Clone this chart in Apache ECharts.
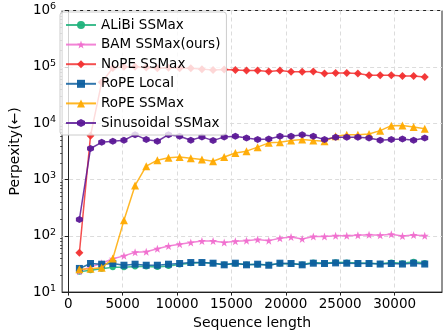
<!DOCTYPE html>
<html><head><meta charset="utf-8">
<script src="https://cdn.jsdelivr.net/npm/echarts@6/dist/echarts.min.js"></script>
<style>html,body{margin:0;padding:0;background:#fff}#c{width:448px;height:335px}</style>
</head><body><div id="c"></div>
<script>
const seqLen = [1024,2048,3072,4096,5120,6144,7168,8192,9216,10240,11264,12288,13312,14336,15360,16384,
  17408,18432,19456,20480,21504,22528,23552,24576,25600,26624,27648,28672,29696,30720,31744,32768];
const alibi = [23,24.5,26,27.5,27.5,28.5,28.5,28,29,31,32.5,33.5,32.5,31,32,31,
  31,30.5,32,32,31,33.5,32.5,34,33.5,33,32.5,32,33.5,32.5,34.5,33];
const bam = [23.5,28,32.5,39,44,51,52,59,66,71,76,81,81,76,80,82,
  86,82,90,95,88,97,97,100,100,102,104,102,106,99,103,100];
const nope = [50,6000,53000,95000,100000,100000,97000,94000,96000,94000,94000,91000,88000,90000,88000,86000,
  86000,83000,86000,82000,82000,83000,76000,78000,78000,76000,71000,71000,71000,69000,69000,66000];
const ropeLocal = [26.3,32.2,31.3,32.2,30,31.3,30,30,31.3,32.2,33.5,33.5,32.6,30.5,32.6,30.5,
  31.3,30,32.6,32.2,30.5,32.6,32.2,33,32.6,32.2,32.2,31.5,32.2,31.5,32.6,31.5];
const ropeSS = [25.5,26,27,39.5,188,783,1720,2200,2420,2510,2380,2260,2110,2510,2950,3180,
  3750,4470,4570,4900,5100,4900,4770,5840,6250,6250,6420,7360,9030,9100,8570,7950];
const sinus = [195,3550,4570,4770,4960,6250,5100,4770,6250,5840,4960,5700,4900,5700,5840,5470,
  5100,5250,5840,5840,6250,5840,5100,5600,5600,5600,5470,4960,5100,5250,4960,5470];
const seriesNames = ['ALiBi SSMax','BAM SSMax(ours)','NoPE SSMax','RoPE Local','RoPE SSMax','Sinusoidal SSMax'];
const xTicks = [0,5000,10000,15000,20000,25000,30000];
const yMinor = [];
[10,100,1000,10000,100000].forEach(d=>{for(let k=2;k<=9;k++) yMinor.push(k*d);});

const STAR = 'path://M10 0 L12.35 6.76 L19.51 6.91 L13.80 11.24 L15.88 18.09 L10 14 L4.12 18.09 L6.20 11.24 L0.49 6.91 L7.65 6.76 Z';
const HEX = 'path://M5 0 L9.33 2.5 L9.33 7.5 L5 10 L0.67 7.5 L0.67 2.5 Z';
const styles = [
  {color:'#1fb27b', symbol:'circle', size:6},
  {color:'#f06ecf', symbol:STAR, size:8},
  {color:'#f23030', symbol:'diamond', size:8},
  {color:'#0e5f9f', symbol:'rect', size:7},
  {color:'#ffaa00', symbol:'triangle', size:8},
  {color:'#5b1796', symbol:HEX, size:7}
];
const values = [alibi,bam,nope,ropeLocal,ropeSS,sinus];
const FONT = 'DejaVu Sans';

const chart = echarts.init(document.getElementById('c'), null, {renderer:'canvas'});
chart.setOption({
  animation:false,
  backgroundColor:'#fff',
  textStyle:{fontFamily:FONT},
  grid:{left:53,right:6,top:10.5,bottom:42,show:true,borderColor:'#222',borderWidth:1,backgroundColor:'#fff'},
  legend:{
    left:60, top:12, orient:'vertical', z:20,
    padding:[6,6,5,5], itemGap:5.6, itemWidth:30, itemHeight:10,
    backgroundColor:'rgba(255,255,255,0.8)', borderColor:'#cccccc', borderWidth:1, borderRadius:3,
    textStyle:{fontFamily:FONT,fontSize:13.5,color:'#000',lineHeight:14},
    data:seriesNames
  },
  xAxis:{
    type:'value', min:-563, max:34355,
    name:'Sequence length', nameLocation:'middle', nameGap:19,
    nameTextStyle:{fontFamily:FONT,fontSize:14,color:'#000'},
    axisLine:{show:true,lineStyle:{color:'#222',width:1}},
    axisTick:{show:true,length:3.5,inside:false,customValues:xTicks,lineStyle:{color:'#222'}},
    axisLabel:{customValues:xTicks,margin:5,fontFamily:FONT,fontSize:13.5,color:'#000',
      formatter:function(v){return String(Math.round(v));}},
    splitLine:{show:true,customValues:xTicks,lineStyle:{color:'#dcdcdc',type:[4,3],width:1}}
  },
  yAxis:{
    type:'log', logBase:10, min:10, max:1000000, interval:1,
    name:'Perpexity(←)', nameLocation:'middle', nameGap:34,
    nameTextStyle:{fontFamily:FONT,fontSize:14,color:'#000'},
    axisLine:{show:true,lineStyle:{color:'#222',width:1}},
    axisTick:{show:true,length:3.5,lineStyle:{color:'#222'}},
    axisLabel:{margin:6,color:'#000',
      formatter:function(v){const e=Math.round(Math.log10(v));return '{b|10}{s|'+e+'}';},
      rich:{b:{fontFamily:FONT,fontSize:13.5,color:'#000'},s:{fontFamily:FONT,fontSize:9.5,color:'#000',padding:[0,0,7,0]}}},
    splitLine:{show:true,lineStyle:{color:'#dcdcdc',type:[4,3],width:1}}
  },
  series: seriesNames.map((n,i)=>({
    name:n, type:'line',
    data: seqLen.map((x,j)=>[x, values[i][j]]),
    symbol:styles[i].symbol, symbolSize:styles[i].size,
    lineStyle:{color:styles[i].color,width:1.5,opacity:0.85},
    itemStyle:{color:styles[i].color,opacity:0.95},
    z:2+i
  }))
});
// minor log ticks, positioned through the axis scale
const x0 = chart.convertToPixel({xAxisIndex:0}, -563);
const minorEls = yMinor.map(v=>{
  const y = Math.round(chart.convertToPixel({yAxisIndex:0}, v)) + 0.5;
  return {type:'line', shape:{x1:x0-2,y1:y,x2:x0,y2:y}, style:{stroke:'#222',lineWidth:0.8}, silent:true};
});
chart.setOption({graphic:minorEls});
</script></body></html>
